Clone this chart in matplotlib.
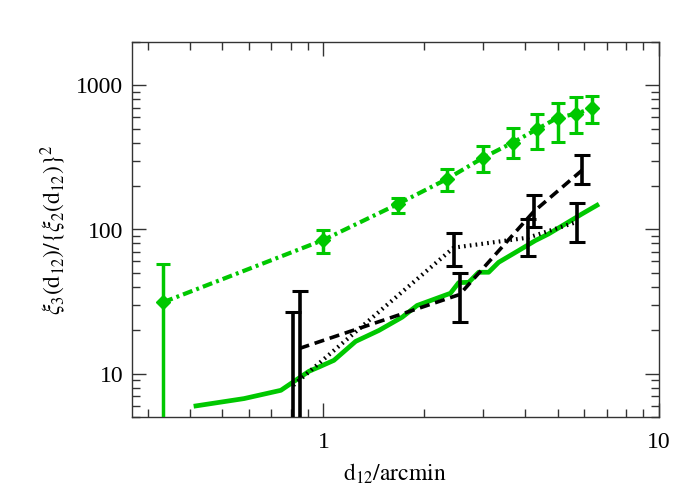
import numpy as np
import matplotlib
matplotlib.use("Agg")
import matplotlib.pyplot as plt
from matplotlib.ticker import FixedLocator, FixedFormatter, LogLocator, NullFormatter

plt.rcParams['font.family'] = ['Liberation Serif', 'DejaVu Serif']
plt.rcParams['mathtext.fontset'] = 'stix'

GREEN = '#00c800'

# green dash-dot series with diamonds
x_g = [0.333, 1.0, 1.667, 2.333, 3.0, 3.667, 4.333, 5.0, 5.667, 6.333]
y_g = [31.3, 84.6, 150.1, 223.6, 315.5, 400.7, 496.0, 597.0, 636.0, 693.0]
lo_g = [1.0, 68.4, 129.2, 185.5, 251.2, 312.5, 360.6, 407.0, 470.0, 551.0]
hi_g = [57.7, 99.2, 166.7, 264.8, 380.0, 504.0, 636.0, 757.8, 830.0, 843.0]

# green solid curve
x_s = [0.417, 0.580, 0.747, 0.827, 0.906, 0.970, 1.075, 1.248, 1.464, 1.718,
       1.903, 2.393, 2.533, 2.713, 2.905, 3.111, 3.332, 3.820, 4.283, 4.692,
       5.262, 5.896, 6.545]
y_s = [5.97, 6.71, 7.66, 8.99, 10.38, 11.11, 12.36, 16.73, 19.93, 24.64,
       29.7, 36.1, 42.8, 43.0, 50.5, 50.5, 59.2, 71.4, 83.7, 93.1,
       109.2, 128.0, 147.3]

# black dashed series
x_d = [0.849, 2.550, 4.235, 5.925]
y_d = [14.96, 35.4, 132.8, 259.3]
lo_d = [1.0, 22.8, 103.7, 205.8]
hi_d = [37.7, 49.7, 174.1, 329.3]

# black dotted series
x_t = [0.814, 2.447, 4.078, 5.725]
y_t = [8.3, 74.8, 87.8, 113.2]
lo_t = [1.0, 56.2, 65.4, 81.7]
hi_t = [26.6, 94.0, 117.8, 152.1]


def yerr(y, lo, hi):
    y = np.array(y)
    return [y - np.array(lo), np.array(hi) - y]


fig = plt.figure(figsize=(7, 5), dpi=100)
ax = fig.add_axes([0.188, 0.166, 0.753, 0.750])
ax.set_xscale('log')
ax.set_yscale('log')

ax.plot(x_s, y_s, color=GREEN, lw=3.4, solid_joinstyle='round', zorder=2)

ax.errorbar(x_g, y_g, yerr=yerr(y_g, lo_g, hi_g), color=GREEN, lw=3.0,
            linestyle=(0, (2.4, 1.0, 0.7, 1.0)), marker='D', markersize=7,
            elinewidth=2.5, capsize=5, capthick=2.2, zorder=3)

ax.errorbar(x_d, y_d, yerr=yerr(y_d, lo_d, hi_d), color='black', lw=2.6,
            linestyle=(0, (2.8, 1.6)), elinewidth=2.6, capsize=6, capthick=2.2,
            zorder=4)

# dotted: short thick dots like the original
l_t = ax.errorbar(x_t, y_t, yerr=yerr(y_t, lo_t, hi_t), color='black', lw=3.0,
                  linestyle=(0, (0.4, 1.0)), elinewidth=2.6, capsize=6,
                  capthick=2.2, zorder=4)
l_t[0].set_dash_capstyle('butt')

ax.set_xlim(0.268, 10)
ax.set_ylim(5, 2000)

ax.xaxis.set_major_locator(FixedLocator([1, 10]))
ax.xaxis.set_major_formatter(FixedFormatter(['1', '10']))
ax.xaxis.set_minor_locator(LogLocator(base=10, subs=np.arange(2, 10)))
ax.xaxis.set_minor_formatter(NullFormatter())
ax.yaxis.set_major_locator(FixedLocator([10, 100, 1000]))
ax.yaxis.set_major_formatter(FixedFormatter(['10', '100', '1000']))
ax.yaxis.set_minor_locator(LogLocator(base=10, subs=np.arange(2, 10)))
ax.yaxis.set_minor_formatter(NullFormatter())

ax.tick_params(which='both', direction='in', top=True, right=True,
               color='#333333', width=1.0, labelsize=17)
ax.tick_params(which='major', length=10)
ax.tick_params(which='minor', length=6)
ax.tick_params(axis='x', which='major', pad=11)
ax.tick_params(axis='y', which='major', pad=6)
for sp in ax.spines.values():
    sp.set_color('#333333')
    sp.set_linewidth(1.0)

ax.set_xlabel(r'$\mathrm{d_{12}/arcmin}$', fontsize=17, labelpad=6)
ax.set_ylabel(r'$\xi_3(\mathrm{d_{12}})/\{\xi_2(\mathrm{d_{12}})\}^2$',
              fontsize=17, labelpad=6)

fig.savefig('out.png', dpi=100)
